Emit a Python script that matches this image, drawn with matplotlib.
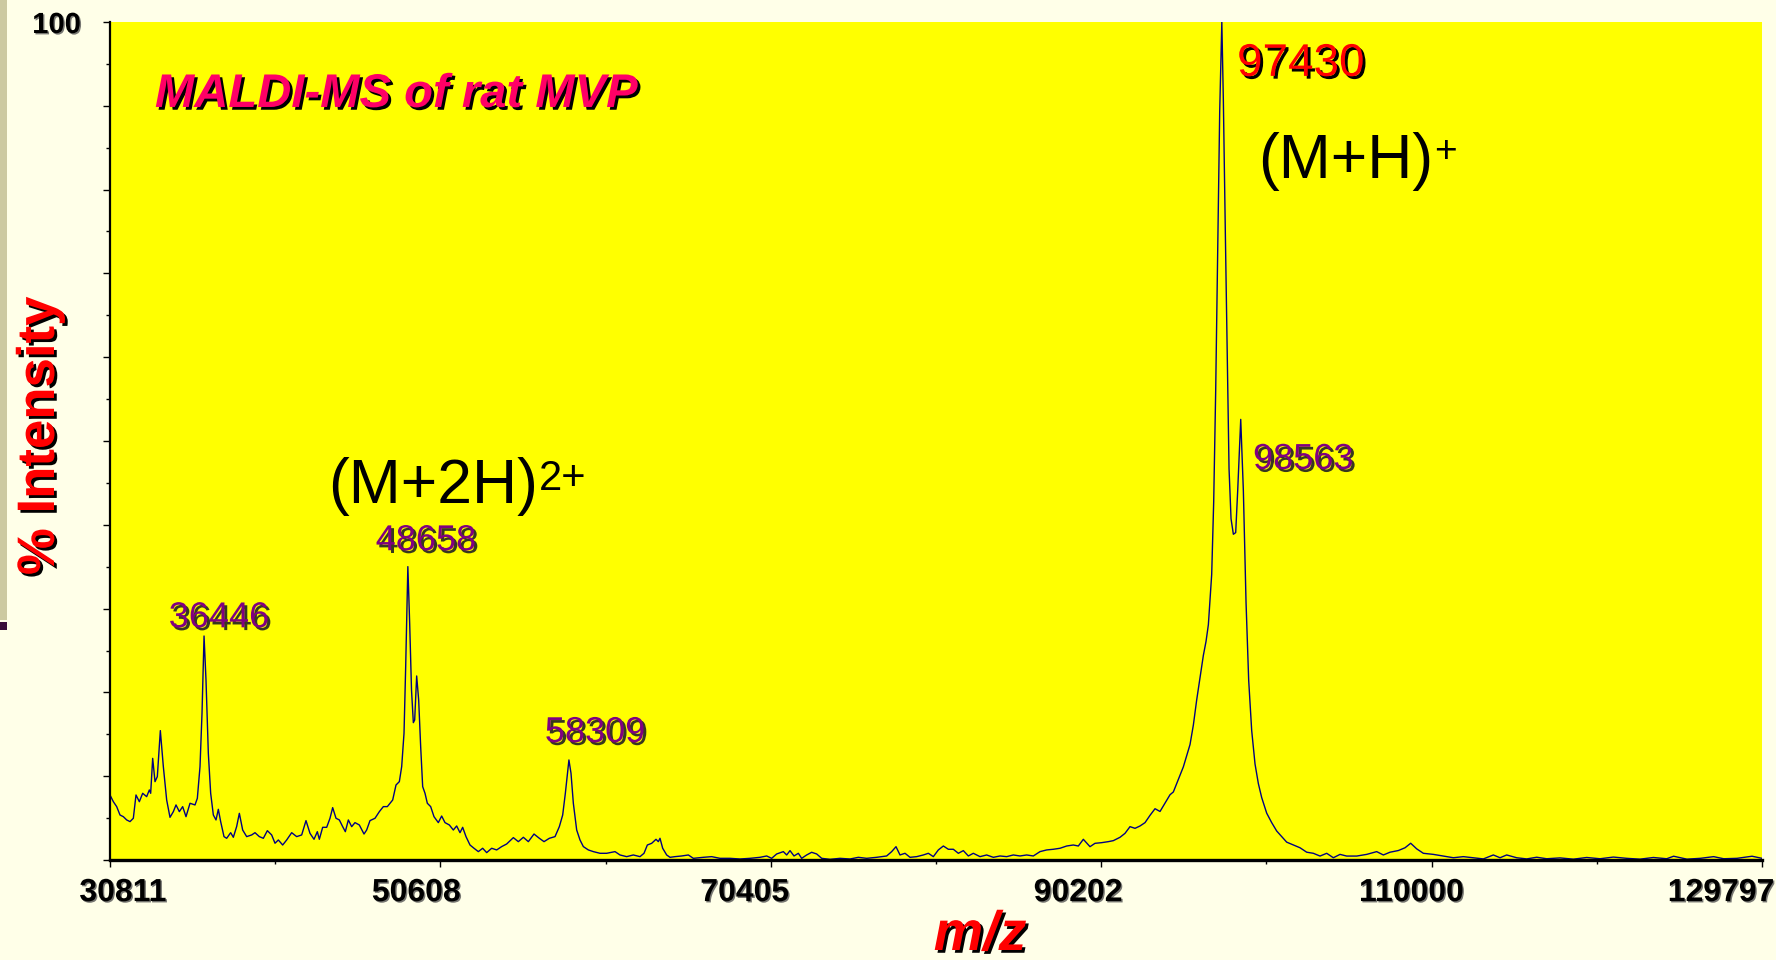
'''MALDI-MS 质谱图: rat MVP
'''
import numpy as np
import matplotlib
matplotlib.use('Agg')
import matplotlib.pyplot as plt
import matplotlib.patheffects as pe
import matplotlib.transforms as mtransforms
from matplotlib.ticker import FixedLocator, MultipleLocator


plt.rcParams['font.family'] = ['Liberation Sans', 'DejaVu Sans']

# 谱图数据 (m/z, % intensity)
mz = [
    30811, 31011, 31211, 31410, 31610, 31810, 32010, 32209, 32369, 32569,
    32769, 33008, 33168, 33248, 33368, 33508, 33647, 33827, 34007, 34207,
    34406, 34606, 34766, 34966, 35165, 35365, 35605, 35904, 36044, 36204,
    36324, 36446, 36563, 36703, 36843, 37003, 37163, 37302, 37442, 37642,
    37802, 38041, 38201, 38401, 38561, 38760, 39000, 39300, 39499, 39759,
    39999, 40239, 40498, 40698, 40898, 41157, 41397, 41697, 41996, 42296,
    42555, 42795, 43035, 43234, 43354, 43554, 43794, 43993, 44153, 44353,
    44553, 44752, 44912, 45092, 45292, 45491, 45751, 46031, 46190, 46390,
    46690, 46950, 47189, 47429, 47749, 47948, 48148, 48288, 48428, 48528,
    48658, 48767, 48877, 48987, 49067, 49186, 49306, 49426, 49546, 49686,
    49825, 50025, 50225, 50484, 50684, 50884, 51144, 51383, 51583, 51783,
    51943, 52142, 52382, 52622, 52882, 53141, 53381, 53681, 53980, 54280,
    54579, 54979, 55278, 55578, 55878, 56217, 56537, 56817, 57136, 57476,
    57735, 57935, 58095, 58309, 58434, 58574, 58774, 58973, 59173, 59473,
    59772, 60172, 60571, 61071, 61370, 61769, 62169, 62568, 62808, 63008,
    63267, 63527, 63667, 63767, 63927, 64166, 64366, 64666, 65065, 65465,
    65764, 66363, 66863, 67362, 67961, 68560, 69159, 69759, 70158, 70458,
    70757, 71157, 71357, 71556, 71796, 72056, 72255, 72555, 72854, 73154,
    73454, 73953, 74552, 75151, 75651, 76150, 76749, 77348, 77648, 77908,
    78147, 78447, 78747, 79146, 79545, 79845, 80145, 80444, 80744, 81044,
    81343, 81643, 81942, 82242, 82541, 82941, 83340, 83740, 84139, 84539,
    84938, 85338, 85737, 86136, 86536, 86935, 87335, 87734, 88134, 88533,
    88833, 89132, 89532, 89831, 90231, 90630, 90930, 91330, 91629, 91929,
    92229, 92528, 92829, 93128, 93428, 93727, 94027, 94327, 94526, 94726,
    94926, 95126, 95325, 95525, 95725, 95924, 96124, 96324, 96484, 96624,
    96823, 96943, 97063, 97183, 97303, 97430, 97522, 97642, 97782, 97862,
    97982, 98122, 98261, 98381, 98563, 98721, 98881, 99040, 99220, 99420,
    99619, 99819, 100119, 100418, 100718, 101017, 101317, 101717, 102116, 102516,
    102915, 103314, 103714, 104113, 104513, 104912, 105511, 106111, 106710, 107109,
    107509, 108008, 108408, 108747, 109107, 109506, 110105, 110704, 111304, 111903,
    112502, 113101, 113700, 114100, 114499, 115098, 115698, 116297, 116896, 117695,
    118494, 119293, 120092, 120891, 121690, 122489, 123288, 124086, 124500, 125300,
    126100, 126900, 127500, 128300, 129200, 129797,
]
intensity = [
    7.76, 6.96, 6.37, 5.37, 5.17, 4.78, 4.58, 4.98, 7.76, 6.96,
    7.96, 7.56, 8.36, 7.96, 12.13, 9.35, 9.95, 15.44, 11.14, 7.16,
    5.09, 5.77, 6.57, 5.77, 6.37, 5.17, 6.77, 6.57, 7.36, 11.14,
    17.50, 26.73, 21.48, 12.73, 7.96, 5.37, 4.78, 6.05, 4.58, 2.79,
    2.59, 3.26, 2.71, 4.00, 5.57, 3.58, 2.79, 2.99, 3.26, 2.79,
    2.59, 3.50, 2.99, 2.00, 2.39, 1.79, 2.39, 3.26, 2.79, 2.99,
    4.70, 3.18, 2.47, 3.38, 2.47, 3.90, 3.90, 4.98, 6.25, 4.98,
    4.78, 3.98, 3.38, 4.78, 3.98, 4.46, 4.18, 3.10, 3.58, 4.70,
    4.98, 5.77, 6.37, 6.37, 7.16, 8.95, 9.35, 11.14, 15.12, 23.07,
    35.01, 28.25, 20.29, 16.39, 16.71, 21.96, 19.10, 13.53, 8.76, 7.96,
    6.77, 6.37, 5.17, 4.46, 5.25, 4.46, 4.18, 3.58, 4.06, 3.26,
    3.90, 2.79, 1.79, 1.40, 1.00, 1.40, 0.88, 1.40, 1.20, 1.60,
    1.91, 2.67, 2.19, 2.71, 2.19, 3.10, 2.59, 2.19, 2.59, 2.79,
    3.98, 5.37, 7.96, 11.94, 10.35, 6.77, 3.58, 2.39, 1.60, 1.20,
    1.00, 0.80, 0.80, 1.00, 0.60, 0.40, 0.60, 0.40, 0.80, 1.79,
    1.99, 2.47, 2.19, 2.59, 1.40, 0.60, 0.32, 0.40, 0.48, 0.60,
    0.20, 0.32, 0.40, 0.20, 0.20, 0.12, 0.20, 0.32, 0.48, 0.20,
    0.72, 1.00, 0.60, 1.12, 0.48, 0.80, 0.20, 0.60, 0.92, 0.72,
    0.20, 0.08, 0.20, 0.12, 0.32, 0.20, 0.32, 0.48, 1.00, 1.59,
    0.60, 0.80, 0.32, 0.40, 0.60, 0.80, 0.40, 1.20, 1.67, 1.28,
    1.28, 0.80, 1.12, 0.48, 0.80, 0.40, 0.60, 0.32, 0.48, 0.40,
    0.60, 0.48, 0.60, 0.48, 1.00, 1.20, 1.28, 1.40, 1.67, 1.79,
    1.67, 2.47, 1.59, 1.99, 2.07, 2.19, 2.31, 2.71, 3.18, 3.98,
    3.78, 4.06, 4.46, 5.33, 6.12, 5.79, 6.79, 7.79, 8.12, 9.12,
    10.12, 11.12, 12.45, 13.78, 16.11, 19.10, 21.76, 24.42, 26.09, 28.08,
    34.07, 42.73, 56.04, 72.67, 89.31, 100.0, 90.64, 74.67, 57.37, 46.72,
    40.73, 38.87, 39.07, 44.06, 52.58, 44.06, 30.75, 21.43, 15.44, 11.45,
    9.12, 7.45, 5.59, 4.46, 3.46, 2.80, 2.13, 1.80, 1.46, 0.93,
    0.80, 0.47, 0.80, 0.27, 0.67, 0.47, 0.47, 0.67, 1.00, 0.60,
    0.93, 1.13, 1.46, 2.00, 1.33, 0.80, 0.67, 0.47, 0.27, 0.40,
    0.27, 0.13, 0.60, 0.27, 0.60, 0.27, 0.13, 0.33, 0.15, 0.25,
    0.10, 0.30, 0.15, 0.35, 0.20, 0.10, 0.30, 0.15, 0.45, 0.10,
    0.20, 0.40, 0.15, 0.20, 0.45, 0.20,
]

# x 轴刻度
x_ticks = [30811, 50608, 70405, 90202, 110000, 129797]
x_tick_labels = ['30811', '50608', '70405', '90202', '110000', '129797']

# 峰标注: 文字, x, y
peak_labels = ['36446', '48658', '58309', '98563']
peak_label_x = [37342, 49746, 59873, 99300]
peak_label_y = [28.9, 38.1, 15.2, 47.8]
base_peak_label = '97430'


def shadow(dx=2, dy=-2, color='black', alpha=1.0):
    return [pe.SimplePatchShadow(offset=(dx, dy), shadow_rgbFace=color, alpha=alpha), pe.Normal()]


fig = plt.figure(figsize=(17.76, 9.6), dpi=100, facecolor='#FFFFE8')
ax = fig.add_axes([110 / 1776, 100 / 960, 1652 / 1776, 838 / 960])
ax.set_facecolor('#FFFF00')

ax.plot(mz, intensity, color='#000080', linewidth=1.0)

ax.set_xlim(30811, 129797)
ax.set_ylim(0, 100)

# 坐标轴样式
ax.spines['top'].set_visible(False)
ax.spines['right'].set_visible(False)
ax.spines['left'].set_linewidth(1.6)
ax.spines['bottom'].set_linewidth(2.4)

ax.xaxis.set_major_locator(FixedLocator(x_ticks))
ax.xaxis.set_minor_locator(FixedLocator([(a + b) / 2 for a, b in zip(x_ticks[:-1], x_ticks[1:])]))
ax.set_xticklabels(x_tick_labels, fontsize=23, fontweight='bold')
ax.tick_params(axis='x', which='major', direction='out', length=5, width=1, pad=8)
ax.tick_params(axis='x', which='minor', direction='out', length=3, width=1)

ax.set_yticks(np.arange(0, 101, 10))
ax.set_yticklabels([''] * 10 + ['100'], fontsize=21, fontweight='bold')
ax.yaxis.set_minor_locator(MultipleLocator(5))
ax.tick_params(axis='y', which='major', direction='out', length=5, width=1, pad=16)
ax.tick_params(axis='y', which='minor', direction='out', length=3, width=1)

# x 刻度标签整体左移一点, 首尾贴边
for lbl, dx in zip(ax.get_xticklabels(), [13, -24, -26, -23, -20, -41]):
    lbl.set_transform(lbl.get_transform() + mtransforms.ScaledTranslation(dx / 100, 0, fig.dpi_scale_trans))
for lbl in ax.get_xticklabels() + ax.get_yticklabels():
    lbl.set_path_effects(shadow(1, -1, '#555555', 0.8))

# 峰值标注
for text, x, y in zip(peak_labels, peak_label_x, peak_label_y):
    ax.text(x, y, text, fontsize=26, color='#800080', ha='center' if text != '98563' else 'left',
            va='center', path_effects=shadow(2, -2, '#222222', 0.9))

ax.text(98343, 95.0, base_peak_label, fontsize=33, color='#FF0000', ha='left', va='center',
        path_effects=shadow(2, -2, 'black', 1.0))

# 离子标注
mh = ax.text(99599, 81.4, '(M+H)', fontsize=45, color='black', ha='left', va='baseline')
ax.annotate('+', xy=(1, 0.97), xycoords=mh, xytext=(1, 0), textcoords='offset points',
            fontsize=28, ha='left', va='top')
m2h = ax.text(43874, 42.6, '(M+2H)', fontsize=45, color='black', ha='left', va='baseline')
ax.annotate('2+', xy=(1, 0.97), xycoords=m2h, xytext=(1, 0), textcoords='offset points',
            fontsize=30, ha='left', va='top')

# 标题
ax.text(0.0272, 0.8986, 'MALDI-MS of rat MVP', transform=ax.transAxes, fontsize=34,
        fontweight='bold', fontstyle='italic', color='#FF0066', ha='left', va='baseline',
        path_effects=shadow(2, -2, 'black', 1.0))

# 轴标题
fig.text(40 / 1776, 1 - 436 / 960, '% Intensity', rotation=90, fontsize=38, fontweight='bold',
         color='#FF0000', ha='center', va='center', path_effects=shadow(2, -2, 'black', 1.0))
fig.text(980 / 1776, 10 / 960, 'm/z', fontsize=40, fontweight='bold', fontstyle='italic',
         color='#FF0000', ha='center', va='baseline', path_effects=shadow(2, -2, 'black', 1.0))

# 左侧装饰条
fig.patches.append(plt.Rectangle((0, 1 - 620 / 960), 7 / 1776, 620 / 960, transform=fig.transFigure,
                                 facecolor='#CCC9A1', edgecolor='none'))
fig.patches.append(plt.Rectangle((0, 1 - 630 / 960), 7 / 1776, 8 / 960, transform=fig.transFigure,
                                 facecolor='#3A0D3A', edgecolor='none'))

fig.savefig('out.png', dpi=100, facecolor=fig.get_facecolor())
